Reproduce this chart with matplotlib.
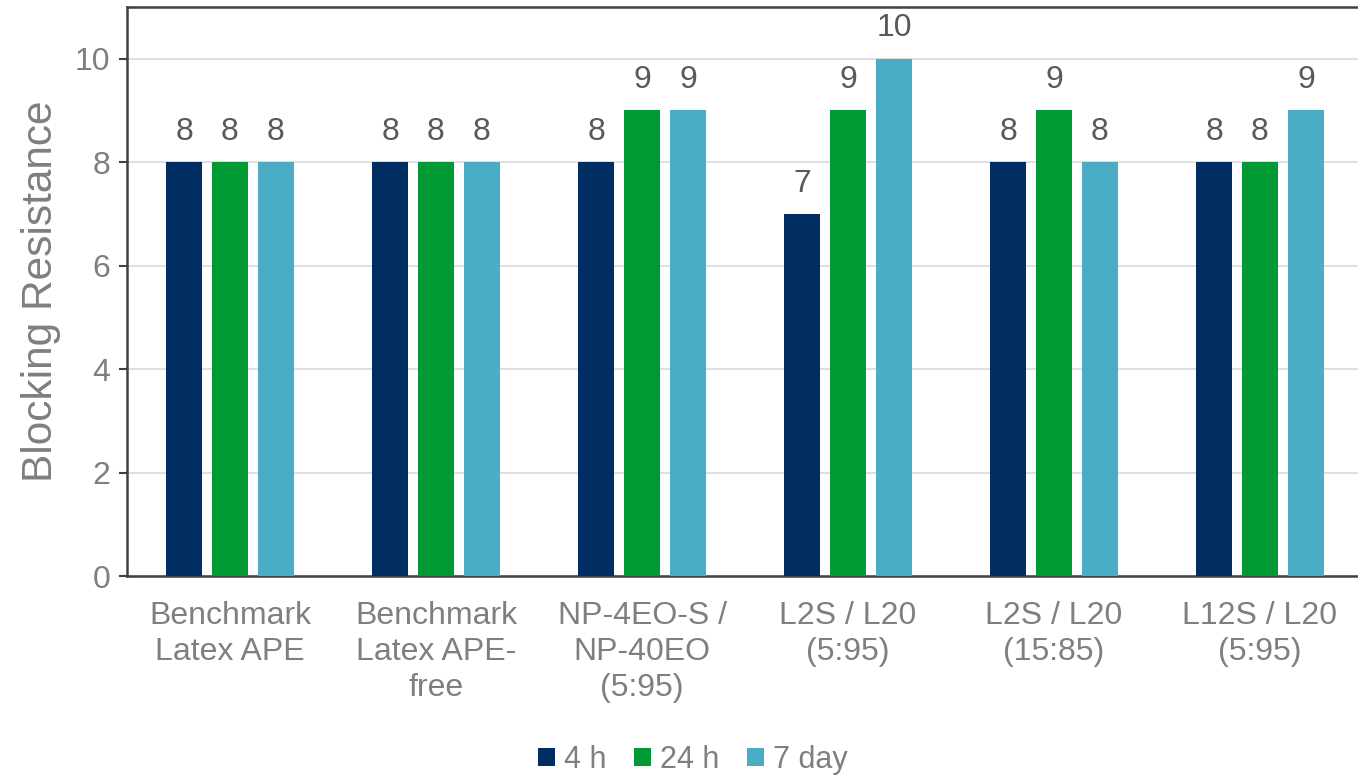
import matplotlib
matplotlib.use("Agg")
import matplotlib.pyplot as plt
import numpy as np

plt.rcParams['font.family'] = ['Liberation Sans', 'DejaVu Sans']

categories = [
    "Benchmark\nLatex APE",
    "Benchmark\nLatex APE-\nfree",
    "NP-4EO-S /\nNP-40EO\n(5:95)",
    "L2S / L20\n(5:95)",
    "L2S / L20\n(15:85)",
    "L12S / L20\n(5:95)",
]
series_names = ["4 h", "24 h", "7 day"]
values_4h = [8, 8, 8, 7, 8, 8]
values_24h = [8, 8, 9, 9, 9, 8]
values_7day = [8, 8, 9, 10, 8, 9]
colors = ["#002D62", "#009933", "#4BACC6"]

fig = plt.figure(figsize=(13.58, 7.79), dpi=100)
ax = fig.add_axes([127 / 1358, 1 - 576 / 779, (1363 - 127) / 1358, (576 - 7) / 779])

x = np.arange(len(categories))
width = 0.175
step = 0.223
for i, (vals, name, col) in enumerate(zip([values_4h, values_24h, values_7day], series_names, colors)):
    pos = x + (i - 1) * step
    ax.bar(pos, vals, width, color=col, label=name, zorder=3)
    for xp, v in zip(pos, vals):
        ax.annotate(f"{v}", (xp, v), xytext=(0, 11), textcoords="offset points",
                    ha="center", va="bottom", fontsize=23, color="#595959")

ax.set_xlim(-0.5, len(categories) - 0.5)
ax.set_ylim(0, 11)
ax.set_yticks([0, 2, 4, 6, 8, 10])
ax.yaxis.grid(True, color="#d9d9d9", linewidth=1.2, zorder=0)
ax.set_axisbelow(True)
ax.set_xticks(x)
ax.set_xticklabels(categories, fontsize=23, color="#7f7f7f", linespacing=1.27)
ax.tick_params(axis="x", length=0, pad=18)
ax.tick_params(axis="y", labelsize=23, labelcolor="#7f7f7f", length=6, width=1.5,
               color="#404040", direction="out", pad=6)
ax.set_ylabel("Blocking Resistance", fontsize=30.5, color="#7f7f7f", labelpad=10)

for side in ["left", "top", "bottom", "right"]:
    ax.spines[side].set_color("#404040")
    ax.spines[side].set_linewidth(1.8)

fig.legend(loc="center", bbox_to_anchor=(693 / 1358, 1 - 760 / 779), ncol=3,
           frameon=False, fontsize=22, handlelength=0.55, handleheight=0.55,
           handletextpad=0.3, columnspacing=0.9, labelcolor="#7f7f7f")

fig.savefig("out.png", dpi=100)
